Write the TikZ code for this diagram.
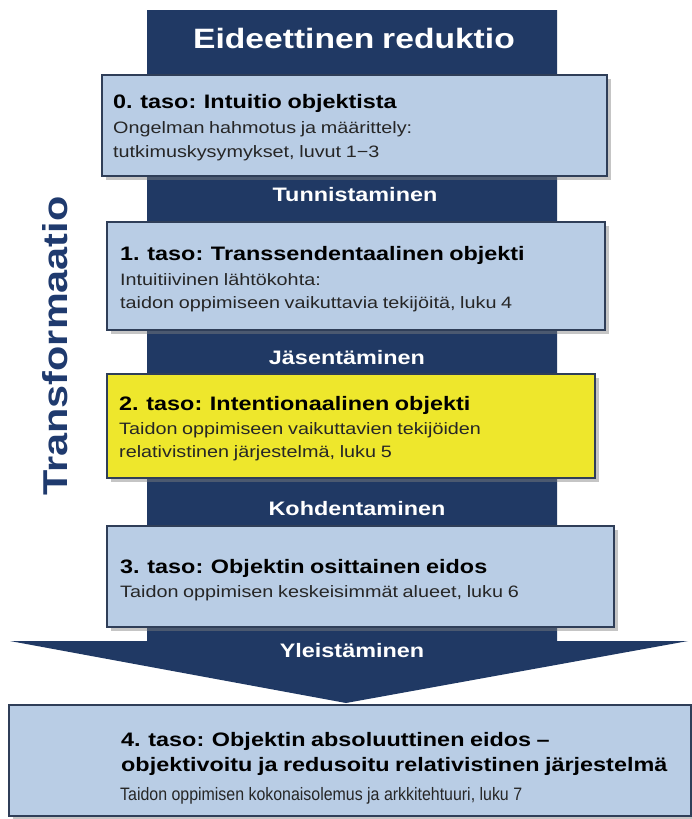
\documentclass[tikz,border=0pt]{standalone}
\usepackage{fontspec}
\setmainfont{Liberation Sans}[FakeStretch=1.2, WordSpace=0.85]
\newfontfamily\narrowfont{Liberation Sans}
\usetikzlibrary{shadows}
\definecolor{navy}{HTML}{203964}
\definecolor{navytxt}{HTML}{1F3A6E}
\definecolor{boxblue}{HTML}{B9CDE5}
\definecolor{boxline}{HTML}{2F3E58}
\definecolor{yel}{HTML}{EEE72C}
\definecolor{bodytxt}{HTML}{262626}
\begin{document}
\begin{tikzpicture}[x=1pt,y=-1pt,
 box/.style={draw=boxline, line width=1.2pt, fill=boxblue, inner sep=0pt,
   drop shadow={shadow xshift=4pt, shadow yshift=-4pt, opacity=0.45}},
 ttl/.style={anchor=base west, inner sep=0pt, font=\fontsize{19.5}{22}\selectfont\bfseries, text=black},
 bdy/.style={anchor=base west, inner sep=0pt, font=\fontsize{16.5}{20}\selectfont, text=bodytxt},
 stage/.style={anchor=base, inner sep=0pt, font=\fontsize{19.5}{22}\selectfont\bfseries, text=white}]
\useasboundingbox (0,0) rectangle (692,819);
\fill[white] (0,0) rectangle (692,819);
% column with arrow head
\fill[navy] (147,10) -- (557,10) -- (557,641) -- (688,641) -- (346,703) -- (10,641) -- (147,641) -- cycle;
\node[anchor=base, inner sep=0pt, font=\fontsize{28}{32}\selectfont\bfseries, text=white] (head) at (354,48) {Eideettinen reduktio};
\node[anchor=base, inner sep=0pt, rotate=90, font=\fontsize{34.5}{36}\selectfont\bfseries, text=navytxt] (trans) at (67,346) {Transformaatio};
% boxes
\path[box] (102,75) rectangle (607,176);
\path[box] (107,222) rectangle (605,330);
\path[box, fill=yel] (107,374) rectangle (595,478);
\path[box] (107,526) rectangle (614,627);
\path[box] (9,705) rectangle (691,816);
% stage labels
\node[stage] (s1) at (355,201) {Tunnistaminen};
\node[stage] (s2) at (347,364) {Jäsentäminen};
\node[stage] (s3) at (357,515) {Kohdentaminen};
\node[stage] (s4) at (352,657) {Yleistäminen};
% texts
\node[ttl] (t0) at (113,108) {0. taso: Intuitio objektista};
\node[bdy] (t0a) at (113,133) {Ongelman hahmotus ja määrittely:};
\node[bdy] (t0b) at (113,157) {tutkimuskysymykset, luvut 1−3};
\node[ttl] (t1) at (120,260) {1. taso: Transsendentaalinen objekti};
\node[bdy] (t1a) at (120,285) {Intuitiivinen lähtökohta:};
\node[bdy] (t1b) at (120,308) {taidon oppimiseen vaikuttavia tekijöitä, luku 4};
\node[ttl] (t2) at (119,410) {2. taso: Intentionaalinen objekti};
\node[bdy] (t2a) at (119,434) {Taidon oppimiseen vaikuttavien tekijöiden};
\node[bdy] (t2b) at (119,457) {relativistinen järjestelmä, luku 5};
\node[ttl] (t3) at (120,573) {3. taso: Objektin osittainen eidos};
\node[bdy] (t3a) at (120,597) {Taidon oppimisen keskeisimmät alueet, luku 6};
\node[ttl] (t4) at (121,746) {4. taso: Objektin absoluuttinen eidos –};
\node[ttl] (t4a) at (121,771) {objektivoitu ja redusoitu relativistinen järjestelmä};
\node[bdy, font=\fontsize{18}{20}\narrowfont] (t4b) at (120,800) {\scalebox{0.885}[1]{Taidon oppimisen kokonaisolemus ja arkkitehtuuri, luku 7}};
\end{tikzpicture}
\end{document}
